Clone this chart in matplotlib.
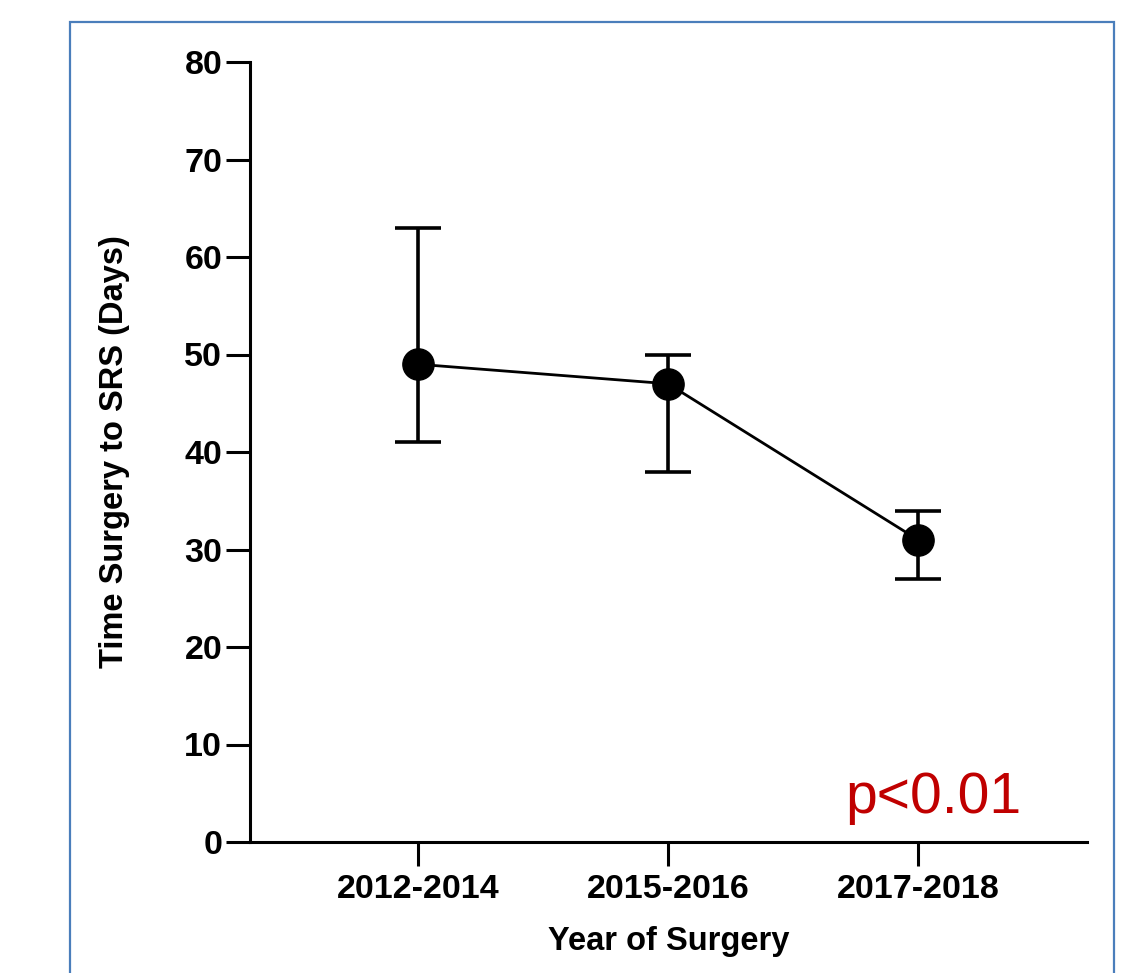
import matplotlib
matplotlib.use("Agg")
import matplotlib.pyplot as plt
from matplotlib.patches import Rectangle

DPI = 100

# Time from surgery to SRS, grouped by year of surgery
periods = ["2012-2014", "2015-2016", "2017-2018"]
centre_days = [49, 47, 31]
upper_days = [63, 50, 34]
lower_days = [41, 38, 27]
y_ticks = [0, 10, 20, 30, 40, 50, 60, 70, 80]
p_text = "p<0.01"

plt.rcParams['font.family'] = ['Liberation Sans', 'DejaVu Sans']

fig = plt.figure(figsize=(1137 / DPI, 973 / DPI), dpi=DPI)
ax = fig.add_axes([250 / 1137, 1 - 842 / 973, 837 / 1137, 780 / 973])

x = list(range(len(periods)))
err_lo = [c - lo for c, lo in zip(centre_days, lower_days)]
err_hi = [hi - c for c, hi in zip(centre_days, upper_days)]

ax.errorbar(x, centre_days, yerr=[err_lo, err_hi], fmt='none',
            ecolor='black', elinewidth=2.6, capsize=16.5, capthick=2.6,
            zorder=2)
ax.plot(x, centre_days, color='black', linewidth=2.0, marker='o',
        markersize=22.5, markerfacecolor='black', markeredgecolor='black',
        zorder=3)

ax.set_xlim(-0.672, 2.676)
ax.set_ylim(0, 80)
ax.set_xticks(x)
ax.set_xticklabels(periods, fontsize=24.5, fontweight='bold')
ax.set_yticks(y_ticks)
ax.set_yticklabels([str(v) for v in y_ticks], fontsize=24.5,
                   fontweight='bold')
ax.tick_params(axis='both', length=17, width=2.2, color='black', pad=3)
ax.tick_params(axis='x', pad=6)

for side in ['top', 'right']:
    ax.spines[side].set_visible(False)
for side in ['left', 'bottom']:
    ax.spines[side].set_linewidth(2.2)
ax.spines['left'].set_bounds(0, 80)

ax.set_ylabel("Time Surgery to SRS (Days)", fontsize=23.5, fontweight='bold')
ax.yaxis.set_label_coords(-0.143, 0.5)
ax.set_xlabel("Year of Surgery", fontsize=23.5, fontweight='bold')
ax.xaxis.set_label_coords(0.5, -0.108)

ax.text(1.708, 3.0, p_text, color='#C00000', fontsize=41,
        ha='left', va='baseline')

# blue frame around the panel
frame = Rectangle((69.5 / 1137, -0.1), (1114 - 69.5) / 1137,
                  1 - 22.5 / 973 + 0.1, transform=fig.transFigure,
                  fill=False, edgecolor='#4A7EBB', linewidth=1.6,
                  clip_on=False)
fig.patches.append(frame)

fig.savefig("out.png", dpi=DPI)
